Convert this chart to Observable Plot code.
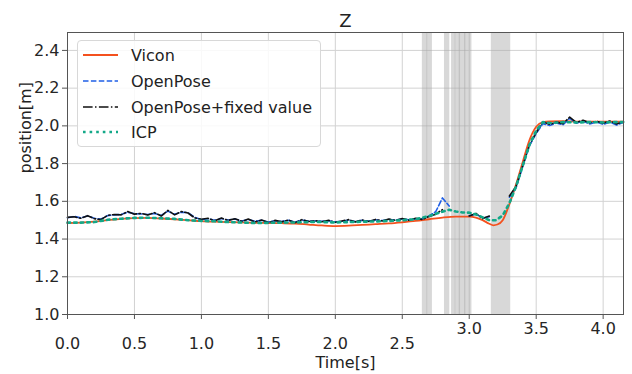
<!DOCTYPE html>
<html><head><meta charset="utf-8">
<script src="https://cdn.jsdelivr.net/npm/d3@7"></script>
<script src="https://cdn.jsdelivr.net/npm/@observablehq/plot@0.6"></script>
<style>
body{margin:0;background:#fff;}
#wrap{position:relative;width:632px;height:374px;font-family:"DejaVu Sans",sans-serif;}
#legend{position:absolute;left:77px;top:40px;width:244px;height:107px;border:1px solid #d8d8d8;border-radius:4px;background:rgba(255,255,255,0.85);box-sizing:border-box;}
#legend svg{position:absolute;left:0;top:0;overflow:visible;}
</style>
</head><body>
<div id="wrap"><div id="chart"></div><div id="legend"></div></div>
<script>
const title = "Z";
const xLabel = "Time[s]";
const yLabel = "position[m]";
const seriesNames = ["Vicon", "OpenPose", "OpenPose+fixed value", "ICP"];
const xTicksLow = [0.0, 0.5, 1.0, 1.5, 2.0, 2.5];
const xTicksHigh = [3.0, 3.5, 4.0];
const yTicks = [1.0, 1.2, 1.4, 1.6, 1.8, 2.0, 2.2, 2.4];

const viconT = [0.0,0.1,0.2,0.3,0.4,0.5,0.6,0.7,0.8,0.9,1.0,1.1,1.2,1.3,1.4,1.5,1.6,1.7,1.8,1.9,2.0,2.1,2.2,2.3,2.4,2.5,2.6,2.7,2.8,2.9,3.0,3.05,3.1,3.15,3.18,3.21,3.25,3.30,3.35,3.40,3.45,3.50,3.55,3.6,3.7,3.8,3.9,4.0,4.1,4.15];
const viconZ = [1.485,1.487,1.492,1.500,1.507,1.511,1.512,1.509,1.505,1.500,1.495,1.492,1.490,1.488,1.486,1.485,1.484,1.482,1.477,1.472,1.469,1.471,1.475,1.479,1.483,1.489,1.496,1.505,1.514,1.519,1.519,1.514,1.500,1.481,1.473,1.477,1.500,1.585,1.690,1.810,1.925,1.995,2.020,2.024,2.025,2.023,2.022,2.022,2.022,2.022];

const openposeT = [0.00,0.05,0.10,0.15,0.20,0.25,0.30,0.35,0.40,0.45,0.50,0.55,0.60,0.65,0.70,0.75,0.80,0.85,0.90,0.95,1.00,1.05,1.10,1.15,1.20,1.25,1.30,1.35,1.40,1.45,1.50,1.55,1.60,1.65,1.70,1.75,1.80,1.85,1.90,1.95,2.00,2.05,2.10,2.15,2.20,2.25,2.30,2.35,2.40,2.45,2.50,2.55,2.60,2.65,2.70,2.75,2.80,2.85,2.90,2.95,3.00,3.05,3.10,3.15,3.20,3.25,3.30,3.35,3.40,3.45,3.50,3.55,3.60,3.65,3.70,3.75,3.80,3.85,3.90,3.95,4.00,4.05,4.10,4.15];
const openposeZ = [1.513,1.520,1.512,1.522,1.510,1.506,1.524,1.528,1.530,1.542,1.534,1.533,1.530,1.536,1.525,1.548,1.531,1.542,1.540,1.515,1.503,1.508,1.499,1.509,1.501,1.506,1.496,1.503,1.494,1.499,1.490,1.497,1.493,1.499,1.490,1.500,1.495,1.496,1.494,1.497,1.491,1.494,1.500,1.493,1.499,1.495,1.502,1.498,1.503,1.501,1.506,1.502,1.507,1.506,1.522,1.545,1.618,1.575,null,null,1.524,1.532,1.512,1.518,null,null,1.622,1.672,1.785,1.895,1.960,2.012,2.002,2.015,2.006,2.040,2.014,2.026,2.010,2.020,2.008,2.020,2.004,2.018];
const fixedZ = [1.515,1.518,1.510,1.524,1.508,1.503,1.526,1.530,1.528,1.546,1.532,1.536,1.527,1.540,1.522,1.552,1.528,1.546,1.538,1.512,1.505,1.510,1.497,1.511,1.499,1.508,1.494,1.506,1.491,1.501,1.487,1.499,1.491,1.501,1.487,1.503,1.493,1.497,1.492,1.499,1.489,1.496,1.503,1.491,1.501,1.493,1.504,1.496,1.506,1.499,1.509,1.500,1.510,1.504,1.520,1.532,1.556,null,null,null,1.522,1.536,1.508,1.522,null,null,1.628,1.680,1.790,1.900,1.965,2.022,2.008,2.020,2.012,2.046,2.018,2.030,2.016,2.024,2.014,2.026,2.010,2.022];

const icpT = [0.0,0.1,0.2,0.3,0.4,0.5,0.6,0.7,0.8,0.9,1.0,1.1,1.2,1.3,1.4,1.5,1.6,1.7,1.8,1.9,2.0,2.1,2.2,2.3,2.4,2.5,2.6,2.7,2.8,2.85,2.9,2.95,3.0,3.05,3.1,3.15,3.2,3.25,3.3,3.35,3.4,3.45,3.5,3.55,3.6,3.7,3.8,3.9,4.0,4.1,4.15];
const icpZ = [1.487,1.487,1.490,1.502,1.508,1.512,1.513,1.510,1.507,1.500,1.496,1.494,1.490,1.488,1.485,1.486,1.487,1.488,1.490,1.490,1.488,1.490,1.492,1.493,1.496,1.500,1.505,1.522,1.545,1.555,1.546,1.541,1.540,1.530,1.515,1.500,1.500,1.525,1.590,1.680,1.790,1.900,1.975,2.020,2.015,2.020,2.018,2.020,2.018,2.020,2.020];

const bandStart = [2.650,2.684,2.815,2.868,2.895,2.925,2.965,3.165];
const bandEnd   = [2.690,2.725,2.855,2.900,2.935,2.975,3.020,3.310];

const styles = [
  {stroke:"#f4511e", strokeWidth:1.8, dash:null},
  {stroke:"#1f5fe6", strokeWidth:1.6, dash:"5.5,2.4"},
  {stroke:"#111111", strokeWidth:1.6, dash:"9.6,2.4,1.5,2.4"},
  {stroke:"#13a888", strokeWidth:2.6, dash:"2.6,4"}
];

const vicon = viconT.map((t,i)=>({t, z:viconZ[i]}));
const openpose = openposeT.map((t,i)=>({t, z:openposeZ[i]}));
const fixed = openposeT.map((t,i)=>({t, z:fixedZ[i]}));
const icp = icpT.map((t,i)=>({t, z:icpZ[i]}));
const bands = bandStart.map((s,i)=>({s, e:bandEnd[i]}));
const fmt = d => d.toFixed(1);
const font = '"DejaVu Sans",sans-serif';

const lineOpts = (k, curve) => ({x:"t", y:"z", stroke:styles[k].stroke, strokeWidth:styles[k].strokeWidth,
  strokeDasharray:styles[k].dash, curve: curve || "linear", strokeLinejoin:"round"});

const chart = Plot.plot({
  width: 632, height: 374,
  marginLeft: 67, marginRight: 9, marginTop: 32, marginBottom: 60,
  style: {fontFamily: font, color: "#262626", background: "white", overflow: "visible"},
  x: {domain: [0, 4.152]},
  y: {domain: [1.0, 2.495]},
  marks: [
    Plot.gridX([...xTicksLow, ...xTicksHigh], {stroke:"#d2d2d2", strokeOpacity:1, strokeWidth:1}),
    Plot.gridY(yTicks, {stroke:"#d2d2d2", strokeOpacity:1, strokeWidth:1}),
    Plot.rect(bands, {x1:"s", x2:"e", fill:"#a8a8a8", fillOpacity:0.45}),
    Plot.line(vicon, lineOpts(0, "monotone-x")),
    Plot.line(openpose, lineOpts(1)),
    Plot.line(fixed, lineOpts(2)),
    Plot.line(icp, lineOpts(3)),
    Plot.frame({stroke:"#555", strokeWidth:1}),
    Plot.axisY(yTicks, {tickFormat: fmt, tickSize:5, tickPadding:3, fontSize:16, label:null, stroke:"#555"}),
    Plot.axisX(xTicksLow, {tickFormat: fmt, tickSize:5, tickPadding:18, fontSize:16, label:null, stroke:"#555"}),
    Plot.axisX(xTicksHigh, {tickFormat: fmt, tickSize:5, tickPadding:3, fontSize:16, label:null, stroke:"#555"}),
    Plot.text([title], {frameAnchor:"top", lineAnchor:"middle", dy:-11, fontSize:18, fill:"#222"}),
    Plot.text([xLabel], {frameAnchor:"bottom", lineAnchor:"middle", dy:48, fontSize:16, fill:"#222"}),
    Plot.text([yLabel], {frameAnchor:"left", lineAnchor:"middle", dx:-42, rotate:-90, fontSize:16, fill:"#222"})
  ]
});
document.getElementById("chart").appendChild(chart);

// legend
const lg = d3.select("#legend").append("svg").attr("width", 244).attr("height", 107);
const rowY = [14, 40, 66, 91];
seriesNames.forEach((name, i) => {
  const g = lg.append("g");
  g.append("line").attr("x1", 5).attr("x2", 40).attr("y1", rowY[i]).attr("y2", rowY[i])
    .attr("stroke", styles[i].stroke).attr("stroke-width", styles[i].strokeWidth)
    .attr("stroke-dasharray", styles[i].dash);
  g.append("text").attr("x", 53).attr("y", rowY[i]).attr("dy", "0.35em")
    .attr("font-size", 16).attr("fill", "#222").style("font-family", font).text(name);
});
</script>
</body></html>
